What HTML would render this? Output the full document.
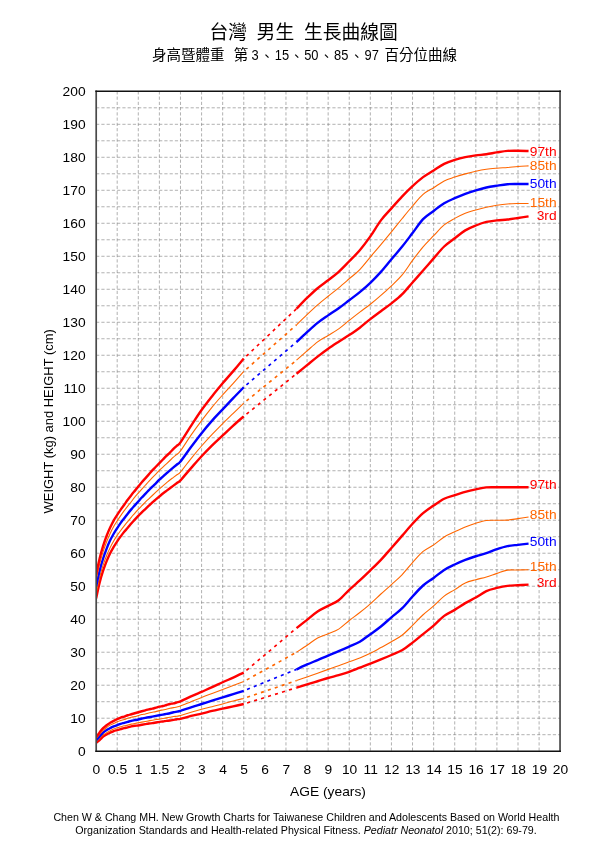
<!DOCTYPE html>
<html lang="zh-Hant"><head><meta charset="utf-8"><title>台灣 男生 生長曲線圖</title>
<style>html,body{margin:0;padding:0;background:#fff}svg{display:block}</style></head>
<body>
<svg width="609" height="845" viewBox="0 0 609 845">
<rect width="609" height="845" fill="#fff"/>
<path d="M96.10 107.80H560.20M96.10 124.30H560.20M96.10 140.79H560.20M96.10 157.29H560.20M96.10 173.79H560.20M96.10 190.29H560.20M96.10 206.78H560.20M96.10 223.28H560.20M96.10 239.78H560.20M96.10 256.28H560.20M96.10 272.77H560.20M96.10 289.27H560.20M96.10 305.77H560.20M96.10 322.27H560.20M96.10 338.76H560.20M96.10 355.26H560.20M96.10 371.76H560.20M96.10 388.26H560.20M96.10 404.75H560.20M96.10 421.25H560.20M96.10 437.75H560.20M96.10 454.25H560.20M96.10 470.74H560.20M96.10 487.24H560.20M96.10 503.74H560.20M96.10 520.24H560.20M96.10 536.73H560.20M96.10 553.23H560.20M96.10 569.73H560.20M96.10 586.23H560.20M96.10 602.72H560.20M96.10 619.22H560.20M96.10 635.72H560.20M96.10 652.22H560.20M96.10 668.71H560.20M96.10 685.21H560.20M96.10 701.71H560.20M96.10 718.21H560.20M96.10 734.70H560.20M117.20 91.30V751.20M138.29 91.30V751.20M159.39 91.30V751.20M180.48 91.30V751.20M201.58 91.30V751.20M222.67 91.30V751.20M243.77 91.30V751.20M264.86 91.30V751.20M285.96 91.30V751.20M307.05 91.30V751.20M328.15 91.30V751.20M349.25 91.30V751.20M370.34 91.30V751.20M391.44 91.30V751.20M412.53 91.30V751.20M433.63 91.30V751.20M454.72 91.30V751.20M475.82 91.30V751.20M496.91 91.30V751.20M518.01 91.30V751.20M539.10 91.30V751.20" fill="none" stroke="#808080" stroke-width="0.62" stroke-dasharray="3.2 2.05"/>
<clipPath id="pc"><rect x="96.10" y="91.30" width="464.10" height="659.90"/></clipPath><g clip-path="url(#pc)">
<path d="M96.10 598.43C96.69 595.79 98.44 587.21 99.62 582.60C100.79 577.98 101.96 574.29 103.13 570.72C104.30 567.14 105.48 564.06 106.65 561.15C107.82 558.23 108.99 555.59 110.16 553.23C111.34 550.87 112.51 548.94 113.68 546.96C114.85 544.98 116.02 543.11 117.20 541.35C118.37 539.59 119.54 538.00 120.71 536.40C121.88 534.81 123.06 533.21 124.23 531.78C125.40 530.35 126.57 529.20 127.74 527.82C128.92 526.45 130.09 524.91 131.26 523.53C132.43 522.16 133.60 520.84 134.78 519.58C135.95 518.31 137.12 517.16 138.29 515.95C139.46 514.74 140.63 513.47 141.81 512.32C142.98 511.16 144.15 510.12 145.32 509.02C146.49 507.92 147.67 506.82 148.84 505.72C150.01 504.62 151.18 503.46 152.35 502.42C153.53 501.37 154.70 500.44 155.87 499.45C157.04 498.46 158.21 497.47 159.39 496.48C160.56 495.49 161.73 494.44 162.90 493.51C164.07 492.57 165.25 491.75 166.42 490.87C167.59 489.99 168.76 489.11 169.93 488.23C171.11 487.35 172.28 486.47 173.45 485.59C174.62 484.71 175.79 483.83 176.97 482.95C178.14 482.07 178.14 482.79 180.48 480.31C182.83 477.84 187.51 472.12 191.03 468.10C194.55 464.09 198.06 460.02 201.58 456.22C205.09 452.43 208.61 448.80 212.12 445.34C215.64 441.87 219.16 438.74 222.67 435.44C226.19 432.14 229.70 428.73 233.22 425.54C236.74 422.35 242.01 417.84 243.77 416.30" fill="none" stroke="#ff0000" stroke-width="2.4" stroke-linejoin="round" stroke-linecap="butt"/>
<path d="M243.77 416.30L296.51 373.74" fill="none" stroke="#ff0000" stroke-width="1.65" stroke-dasharray="3.1 4.2" stroke-dashoffset="-3.5"/>
<path d="M296.51 373.74C298.26 372.31 303.54 368.00 307.05 365.16C310.57 362.31 314.09 359.39 317.60 356.66C321.12 353.93 324.63 351.26 328.15 348.78C331.67 346.30 335.18 344.06 338.70 341.77C342.21 339.48 345.73 337.40 349.25 335.05C352.76 332.70 356.28 330.33 359.79 327.68C363.31 325.02 366.83 321.85 370.34 319.10C373.86 316.36 377.37 313.84 380.89 311.21C384.40 308.59 387.92 306.16 391.44 303.36C394.95 300.56 398.47 297.89 401.98 294.40C405.50 290.92 409.02 286.41 412.53 282.44C416.05 278.47 419.56 274.58 423.08 270.57C426.60 266.56 430.11 262.39 433.63 258.38C437.14 254.37 440.66 249.84 444.18 246.50C447.69 243.15 451.21 241.01 454.72 238.32C458.24 235.63 461.75 232.51 465.27 230.37C468.79 228.24 472.30 226.91 475.82 225.50C479.33 224.10 482.85 222.78 486.37 221.93C489.88 221.07 493.40 220.79 496.91 220.39C500.43 219.99 503.95 219.93 507.46 219.53C510.98 219.13 514.49 218.53 518.01 218.00C521.52 217.47 526.80 216.63 528.56 216.35" fill="none" stroke="#ff0000" stroke-width="2.4" stroke-linejoin="round"/>
<path d="M96.10 593.15C96.69 590.51 98.44 581.99 99.62 577.32C100.79 572.64 101.96 568.74 103.13 565.11C104.30 561.48 105.48 558.45 106.65 555.54C107.82 552.63 108.99 550.04 110.16 547.62C111.34 545.20 112.51 543.06 113.68 541.02C114.85 538.99 116.02 537.17 117.20 535.41C118.37 533.65 119.54 532.06 120.71 530.46C121.88 528.87 123.06 527.33 124.23 525.84C125.40 524.36 126.57 522.98 127.74 521.55C128.92 520.13 130.09 518.64 131.26 517.27C132.43 515.89 133.60 514.63 134.78 513.31C135.95 511.99 137.12 510.61 138.29 509.35C139.46 508.08 140.63 506.93 141.81 505.72C142.98 504.51 144.15 503.24 145.32 502.09C146.49 500.93 147.67 499.89 148.84 498.79C150.01 497.69 151.18 496.59 152.35 495.49C153.53 494.39 154.70 493.29 155.87 492.19C157.04 491.09 158.21 489.93 159.39 488.89C160.56 487.84 161.73 486.91 162.90 485.92C164.07 484.93 165.25 483.94 166.42 482.95C167.59 481.96 168.76 480.92 169.93 479.98C171.11 479.05 172.28 478.22 173.45 477.34C174.62 476.46 175.79 475.58 176.97 474.70C178.14 473.82 178.14 474.76 180.48 472.06C182.83 469.37 187.51 462.88 191.03 458.53C194.55 454.19 198.06 450.01 201.58 446.00C205.09 441.98 208.61 438.19 212.12 434.45C215.64 430.71 219.16 427.08 222.67 423.56C226.19 420.04 229.70 416.74 233.22 413.33C236.74 409.92 242.01 404.81 243.77 403.10" fill="none" stroke="#ff6600" stroke-width="1.1" stroke-linejoin="round" stroke-linecap="butt"/>
<path d="M243.77 403.10L296.51 360.21" fill="none" stroke="#ff6600" stroke-width="1.65" stroke-dasharray="3.1 4.2" stroke-dashoffset="-3.5"/>
<path d="M296.51 360.21C298.26 358.66 303.54 353.99 307.05 350.93C310.57 347.87 314.09 344.42 317.60 341.84C321.12 339.25 324.63 337.58 328.15 335.42C331.67 333.26 335.18 331.39 338.70 328.88C342.21 326.37 345.73 323.16 349.25 320.36C352.76 317.57 356.28 314.79 359.79 312.12C363.31 309.44 366.83 307.07 370.34 304.29C373.86 301.51 377.37 298.52 380.89 295.44C384.40 292.36 387.92 289.16 391.44 285.79C394.95 282.41 398.47 279.44 401.98 275.21C405.50 270.99 409.02 265.19 412.53 260.45C416.05 255.71 419.56 250.90 423.08 246.77C426.60 242.65 430.11 239.34 433.63 235.70C437.14 232.06 440.66 227.83 444.18 224.94C447.69 222.06 451.21 220.35 454.72 218.39C458.24 216.43 461.75 214.59 465.27 213.18C468.79 211.77 472.30 210.93 475.82 209.94C479.33 208.94 482.85 208.00 486.37 207.21C489.88 206.42 493.40 205.76 496.91 205.21C500.43 204.67 503.95 204.21 507.46 203.93C510.98 203.65 514.49 203.60 518.01 203.52C521.52 203.45 526.80 203.49 528.56 203.48" fill="none" stroke="#ff6600" stroke-width="1.1" stroke-linejoin="round"/>
<path d="M96.10 586.55C96.69 583.92 98.44 575.39 99.62 570.72C100.79 566.04 101.96 562.19 103.13 558.51C104.30 554.82 105.48 551.64 106.65 548.61C107.82 545.59 108.99 542.84 110.16 540.36C111.34 537.89 112.51 535.80 113.68 533.76C114.85 531.73 116.02 529.97 117.20 528.15C118.37 526.34 119.54 524.52 120.71 522.87C121.88 521.22 123.06 519.80 124.23 518.26C125.40 516.72 126.57 515.12 127.74 513.64C128.92 512.15 130.09 510.72 131.26 509.35C132.43 507.97 133.60 506.71 134.78 505.39C135.95 504.07 137.12 502.75 138.29 501.43C139.46 500.11 140.63 498.73 141.81 497.47C142.98 496.20 144.15 495.05 145.32 493.84C146.49 492.63 147.67 491.42 148.84 490.21C150.01 489.00 151.18 487.73 152.35 486.58C153.53 485.43 154.70 484.44 155.87 483.28C157.04 482.13 158.21 480.75 159.39 479.65C160.56 478.55 161.73 477.73 162.90 476.68C164.07 475.64 165.25 474.43 166.42 473.38C167.59 472.34 168.76 471.40 169.93 470.41C171.11 469.42 172.28 468.43 173.45 467.44C174.62 466.45 175.79 465.46 176.97 464.47C178.14 463.48 178.14 464.42 180.48 461.50C182.83 458.59 187.51 451.72 191.03 446.99C194.55 442.26 198.06 437.53 201.58 433.13C205.09 428.73 208.61 424.55 212.12 420.59C215.64 416.63 219.16 413.11 222.67 409.37C226.19 405.63 229.70 401.84 233.22 398.15C236.74 394.47 242.01 389.08 243.77 387.27" fill="none" stroke="#0000ff" stroke-width="2.4" stroke-linejoin="round" stroke-linecap="butt"/>
<path d="M243.77 387.27L296.51 342.06" fill="none" stroke="#0000ff" stroke-width="1.65" stroke-dasharray="3.1 4.2" stroke-dashoffset="-3.5"/>
<path d="M296.51 342.06C298.26 340.42 303.54 335.40 307.05 332.20C310.57 329.00 314.09 325.68 317.60 322.87C321.12 320.07 324.63 317.81 328.15 315.38C331.67 312.94 335.18 310.78 338.70 308.25C342.21 305.72 345.73 302.89 349.25 300.20C352.76 297.50 356.28 294.98 359.79 292.08C363.31 289.18 366.83 286.17 370.34 282.80C373.86 279.43 377.37 275.79 380.89 271.86C384.40 267.92 387.92 263.37 391.44 259.20C394.95 255.03 398.47 251.18 401.98 246.82C405.50 242.46 409.02 237.66 412.53 233.04C416.05 228.42 419.56 222.80 423.08 219.12C426.60 215.43 430.11 213.58 433.63 210.93C437.14 208.29 440.66 205.38 444.18 203.26C447.69 201.14 451.21 199.79 454.72 198.22C458.24 196.66 461.75 195.18 465.27 193.87C468.79 192.56 472.30 191.41 475.82 190.34C479.33 189.28 482.85 188.25 486.37 187.47C489.88 186.69 493.40 186.21 496.91 185.67C500.43 185.12 503.95 184.49 507.46 184.21C510.98 183.94 514.49 184.05 518.01 184.02C521.52 183.98 526.80 184.02 528.56 184.02" fill="none" stroke="#0000ff" stroke-width="2.4" stroke-linejoin="round"/>
<path d="M96.10 580.29C96.69 577.59 98.44 568.90 99.62 564.12C100.79 559.33 101.96 555.32 103.13 551.58C104.30 547.84 105.48 544.71 106.65 541.68C107.82 538.66 108.99 535.96 110.16 533.43C111.34 530.90 112.51 528.59 113.68 526.50C114.85 524.41 116.02 522.71 117.20 520.89C118.37 519.08 119.54 517.32 120.71 515.62C121.88 513.91 123.06 512.26 124.23 510.67C125.40 509.07 126.57 507.53 127.74 506.05C128.92 504.56 130.09 503.24 131.26 501.76C132.43 500.27 133.60 498.57 134.78 497.14C135.95 495.71 137.12 494.50 138.29 493.18C139.46 491.86 140.63 490.54 141.81 489.22C142.98 487.90 144.15 486.58 145.32 485.26C146.49 483.94 147.67 482.57 148.84 481.30C150.01 480.04 151.18 478.88 152.35 477.67C153.53 476.46 154.70 475.25 155.87 474.04C157.04 472.83 158.21 471.57 159.39 470.41C160.56 469.26 161.73 468.21 162.90 467.11C164.07 466.01 165.25 464.91 166.42 463.81C167.59 462.71 168.76 461.61 169.93 460.51C171.11 459.41 172.28 458.26 173.45 457.21C174.62 456.17 175.79 455.29 176.97 454.25C178.14 453.20 178.14 454.14 180.48 450.95C182.83 447.76 187.51 440.17 191.03 435.11C194.55 430.05 198.06 425.26 201.58 420.59C205.09 415.92 208.61 411.35 212.12 407.06C215.64 402.77 219.16 398.81 222.67 394.85C226.19 390.89 229.70 387.21 233.22 383.31C236.74 379.40 242.01 373.41 243.77 371.43" fill="none" stroke="#ff6600" stroke-width="1.1" stroke-linejoin="round" stroke-linecap="butt"/>
<path d="M243.77 371.43L296.51 324.90" fill="none" stroke="#ff6600" stroke-width="1.65" stroke-dasharray="3.1 4.2" stroke-dashoffset="-3.5"/>
<path d="M296.51 324.90C298.26 323.21 303.54 318.04 307.05 314.72C310.57 311.39 314.09 308.02 317.60 304.94C321.12 301.86 324.63 299.09 328.15 296.24C331.67 293.39 335.18 290.74 338.70 287.83C342.21 284.92 345.73 281.83 349.25 278.79C352.76 275.75 356.28 273.20 359.79 269.58C363.31 265.96 366.83 261.21 370.34 257.05C373.86 252.90 377.37 248.85 380.89 244.65C384.40 240.44 387.92 236.14 391.44 231.82C394.95 227.50 398.47 223.02 401.98 218.72C405.50 214.42 409.02 210.05 412.53 206.00C416.05 201.94 419.56 197.44 423.08 194.40C426.60 191.35 430.11 189.99 433.63 187.74C437.14 185.49 440.66 182.68 444.18 180.90C447.69 179.13 451.21 178.26 454.72 177.09C458.24 175.91 461.75 174.84 465.27 173.87C468.79 172.89 472.30 171.99 475.82 171.23C479.33 170.46 482.85 169.79 486.37 169.29C489.88 168.79 493.40 168.52 496.91 168.22C500.43 167.92 503.95 167.75 507.46 167.48C510.98 167.20 514.49 166.84 518.01 166.57C521.52 166.30 526.80 165.99 528.56 165.87" fill="none" stroke="#ff6600" stroke-width="1.1" stroke-linejoin="round"/>
<path d="M96.10 575.01C96.69 572.26 98.44 563.35 99.62 558.51C100.79 553.67 101.96 549.77 103.13 545.97C104.30 542.18 105.48 538.82 106.65 535.74C107.82 532.66 108.99 530.02 110.16 527.49C111.34 524.96 112.51 522.65 113.68 520.56C114.85 518.48 116.02 516.77 117.20 514.96C118.37 513.14 119.54 511.38 120.71 509.68C121.88 507.97 123.06 506.38 124.23 504.73C125.40 503.08 126.57 501.37 127.74 499.78C128.92 498.18 130.09 496.64 131.26 495.16C132.43 493.67 133.60 492.30 134.78 490.87C135.95 489.44 137.12 488.01 138.29 486.58C139.46 485.15 140.63 483.67 141.81 482.29C142.98 480.92 144.15 479.65 145.32 478.33C146.49 477.01 147.67 475.69 148.84 474.37C150.01 473.05 151.18 471.68 152.35 470.41C153.53 469.15 154.70 467.99 155.87 466.78C157.04 465.57 158.21 464.36 159.39 463.15C160.56 461.94 161.73 460.73 162.90 459.52C164.07 458.31 165.25 457.05 166.42 455.89C167.59 454.74 168.76 453.75 169.93 452.60C171.11 451.44 172.28 450.12 173.45 448.97C174.62 447.81 175.79 446.77 176.97 445.67C178.14 444.57 178.14 445.67 180.48 442.37C182.83 439.07 187.51 431.26 191.03 425.87C194.55 420.48 198.06 414.98 201.58 410.03C205.09 405.08 208.61 400.63 212.12 396.17C215.64 391.72 219.16 387.49 222.67 383.31C226.19 379.13 229.70 375.22 233.22 371.10C236.74 366.97 242.01 360.65 243.77 358.56" fill="none" stroke="#ff0000" stroke-width="2.4" stroke-linejoin="round" stroke-linecap="butt"/>
<path d="M243.77 358.56L296.51 308.74" fill="none" stroke="#ff0000" stroke-width="1.65" stroke-dasharray="3.1 4.2" stroke-dashoffset="-3.5"/>
<path d="M296.51 308.74C298.26 306.94 303.54 301.39 307.05 297.97C310.57 294.55 314.09 291.17 317.60 288.23C321.12 285.28 324.63 283.02 328.15 280.28C331.67 277.54 335.18 274.97 338.70 271.80C342.21 268.63 345.73 264.85 349.25 261.26C352.76 257.68 356.28 254.41 359.79 250.27C363.31 246.13 366.83 241.40 370.34 236.41C373.86 231.43 377.37 225.04 380.89 220.36C384.40 215.68 387.92 212.30 391.44 208.33C394.95 204.37 398.47 200.29 401.98 196.59C405.50 192.89 409.02 189.38 412.53 186.13C416.05 182.89 419.56 179.74 423.08 177.11C426.60 174.49 430.11 172.61 433.63 170.39C437.14 168.17 440.66 165.56 444.18 163.81C447.69 162.06 451.21 160.98 454.72 159.86C458.24 158.75 461.75 157.84 465.27 157.10C468.79 156.35 472.30 155.87 475.82 155.39C479.33 154.91 482.85 154.70 486.37 154.20C489.88 153.70 493.40 152.93 496.91 152.38C500.43 151.83 503.95 151.16 507.46 150.89C510.98 150.61 514.49 150.71 518.01 150.73C521.52 150.75 526.80 150.97 528.56 151.02" fill="none" stroke="#ff0000" stroke-width="2.4" stroke-linejoin="round"/>
<path d="M96.10 742.95C96.69 742.46 98.44 741.03 99.62 739.98C100.79 738.94 101.96 737.62 103.13 736.68C104.30 735.75 105.48 735.03 106.65 734.37C107.82 733.71 108.99 733.27 110.16 732.72C111.34 732.17 112.51 731.51 113.68 731.07C114.85 730.63 116.02 730.41 117.20 730.08C118.37 729.75 119.54 729.42 120.71 729.09C121.88 728.76 123.06 728.38 124.23 728.10C125.40 727.83 126.57 727.72 127.74 727.44C128.92 727.17 130.09 726.73 131.26 726.45C132.43 726.18 133.60 725.96 134.78 725.79C135.95 725.63 137.12 725.63 138.29 725.46C139.46 725.30 140.63 725.02 141.81 724.80C142.98 724.58 144.15 724.36 145.32 724.14C146.49 723.92 147.67 723.65 148.84 723.48C150.01 723.32 151.18 723.32 152.35 723.15C153.53 722.99 154.70 722.71 155.87 722.49C157.04 722.27 158.21 722.00 159.39 721.83C160.56 721.67 161.73 721.67 162.90 721.50C164.07 721.34 165.25 721.01 166.42 720.84C167.59 720.68 168.76 720.68 169.93 720.51C171.11 720.35 172.28 720.07 173.45 719.85C174.62 719.63 175.79 719.36 176.97 719.19C178.14 719.03 178.14 719.41 180.48 718.86C182.83 718.31 187.51 716.78 191.03 715.90C194.55 715.02 198.06 714.41 201.58 713.59C205.09 712.76 208.61 711.77 212.12 710.95C215.64 710.12 219.16 709.41 222.67 708.64C226.19 707.87 229.70 707.10 233.22 706.33C236.74 705.56 242.01 704.40 243.77 704.02" fill="none" stroke="#ff0000" stroke-width="2.4" stroke-linejoin="round" stroke-linecap="butt"/>
<path d="M243.77 704.02L296.51 687.68" fill="none" stroke="#ff0000" stroke-width="1.65" stroke-dasharray="3.1 4.2" stroke-dashoffset="-3.5"/>
<path d="M296.51 687.68C298.26 687.14 303.54 685.47 307.05 684.40C310.57 683.32 314.09 682.31 317.60 681.24C321.12 680.17 324.63 679.01 328.15 677.99C331.67 676.96 335.18 676.14 338.70 675.11C342.21 674.08 345.73 673.02 349.25 671.79C352.76 670.56 356.28 669.08 359.79 667.73C363.31 666.39 366.83 665.12 370.34 663.74C373.86 662.36 377.37 660.92 380.89 659.46C384.40 658.01 387.92 656.54 391.44 655.02C394.95 653.50 398.47 652.39 401.98 650.32C405.50 648.25 409.02 645.31 412.53 642.60C416.05 639.89 419.56 636.91 423.08 634.09C426.60 631.27 430.11 628.71 433.63 625.68C437.14 622.65 440.66 618.55 444.18 615.91C447.69 613.28 451.21 612.02 454.72 609.89C458.24 607.76 461.75 605.22 465.27 603.16C468.79 601.09 472.30 599.52 475.82 597.52C479.33 595.51 482.85 592.71 486.37 591.11C489.88 589.51 493.40 588.81 496.91 587.93C500.43 587.06 503.95 586.30 507.46 585.85C510.98 585.39 514.49 585.44 518.01 585.22C521.52 585.01 526.80 584.68 528.56 584.58" fill="none" stroke="#ff0000" stroke-width="2.4" stroke-linejoin="round"/>
<path d="M96.10 741.63C96.69 741.08 98.44 739.43 99.62 738.33C100.79 737.23 101.96 735.97 103.13 735.03C104.30 734.10 105.48 733.44 106.65 732.72C107.82 732.01 108.99 731.35 110.16 730.74C111.34 730.14 112.51 729.59 113.68 729.09C114.85 728.60 116.02 728.16 117.20 727.77C118.37 727.39 119.54 727.11 120.71 726.78C121.88 726.45 123.06 726.07 124.23 725.79C125.40 725.52 126.57 725.41 127.74 725.13C128.92 724.86 130.09 724.42 131.26 724.14C132.43 723.87 133.60 723.70 134.78 723.48C135.95 723.26 137.12 723.04 138.29 722.82C139.46 722.60 140.63 722.38 141.81 722.16C142.98 721.94 144.15 721.72 145.32 721.50C146.49 721.28 147.67 721.06 148.84 720.84C150.01 720.62 151.18 720.40 152.35 720.18C153.53 719.96 154.70 719.69 155.87 719.52C157.04 719.36 158.21 719.36 159.39 719.19C160.56 719.03 161.73 718.75 162.90 718.53C164.07 718.31 165.25 718.10 166.42 717.88C167.59 717.66 168.76 717.44 169.93 717.22C171.11 717.00 172.28 716.72 173.45 716.56C174.62 716.39 175.79 716.39 176.97 716.23C178.14 716.06 178.14 716.23 180.48 715.57C182.83 714.91 187.51 713.31 191.03 712.27C194.55 711.22 198.06 710.23 201.58 709.30C205.09 708.36 208.61 707.54 212.12 706.66C215.64 705.78 219.16 704.95 222.67 704.02C226.19 703.08 229.70 701.98 233.22 701.05C236.74 700.11 242.01 698.85 243.77 698.41" fill="none" stroke="#ff6600" stroke-width="1.1" stroke-linejoin="round" stroke-linecap="butt"/>
<path d="M243.77 698.41L296.51 680.59" fill="none" stroke="#ff6600" stroke-width="1.65" stroke-dasharray="3.1 4.2" stroke-dashoffset="-3.5"/>
<path d="M296.51 680.59C298.26 679.98 303.54 678.19 307.05 676.95C310.57 675.71 314.09 674.43 317.60 673.17C321.12 671.91 324.63 670.63 328.15 669.38C331.67 668.14 335.18 666.98 338.70 665.72C342.21 664.46 345.73 663.09 349.25 661.80C352.76 660.50 356.28 659.35 359.79 657.93C363.31 656.51 366.83 655.01 370.34 653.29C373.86 651.57 377.37 649.51 380.89 647.60C384.40 645.68 387.92 643.84 391.44 641.79C394.95 639.74 398.47 638.01 401.98 635.29C405.50 632.56 409.02 628.85 412.53 625.43C416.05 622.01 419.56 618.02 423.08 614.76C426.60 611.51 430.11 609.02 433.63 605.91C437.14 602.79 440.66 598.79 444.18 596.08C447.69 593.37 451.21 591.81 454.72 589.63C458.24 587.46 461.75 584.69 465.27 583.03C468.79 581.36 472.30 580.68 475.82 579.66C479.33 578.64 482.85 577.97 486.37 576.92C489.88 575.87 493.40 574.50 496.91 573.37C500.43 572.24 503.95 570.70 507.46 570.15C510.98 569.59 514.49 570.09 518.01 570.02C521.52 569.95 526.80 569.78 528.56 569.73" fill="none" stroke="#ff6600" stroke-width="1.1" stroke-linejoin="round"/>
<path d="M96.10 740.31C96.69 739.65 98.44 737.62 99.62 736.35C100.79 735.09 101.96 733.77 103.13 732.72C104.30 731.68 105.48 730.85 106.65 730.08C107.82 729.31 108.99 728.71 110.16 728.10C111.34 727.50 112.51 726.95 113.68 726.45C114.85 725.96 116.02 725.57 117.20 725.13C118.37 724.69 119.54 724.20 120.71 723.81C121.88 723.43 123.06 723.15 124.23 722.82C125.40 722.49 126.57 722.16 127.74 721.83C128.92 721.50 130.09 721.12 131.26 720.84C132.43 720.57 133.60 720.40 134.78 720.18C135.95 719.96 137.12 719.80 138.29 719.52C139.46 719.25 140.63 718.81 141.81 718.53C142.98 718.26 144.15 718.10 145.32 717.88C146.49 717.66 147.67 717.44 148.84 717.22C150.01 717.00 151.18 716.78 152.35 716.56C153.53 716.34 154.70 716.12 155.87 715.90C157.04 715.68 158.21 715.46 159.39 715.24C160.56 715.02 161.73 714.80 162.90 714.58C164.07 714.36 165.25 714.14 166.42 713.92C167.59 713.70 168.76 713.53 169.93 713.26C171.11 712.98 172.28 712.54 173.45 712.27C174.62 711.99 175.79 711.83 176.97 711.61C178.14 711.39 178.14 711.66 180.48 710.95C182.83 710.23 187.51 708.47 191.03 707.32C194.55 706.16 198.06 705.12 201.58 704.02C205.09 702.92 208.61 701.82 212.12 700.72C215.64 699.62 219.16 698.52 222.67 697.42C226.19 696.32 229.70 695.22 233.22 694.12C236.74 693.02 242.01 691.37 243.77 690.82" fill="none" stroke="#0000ff" stroke-width="2.4" stroke-linejoin="round" stroke-linecap="butt"/>
<path d="M243.77 690.82L296.51 669.37" fill="none" stroke="#0000ff" stroke-width="1.65" stroke-dasharray="3.1 4.2" stroke-dashoffset="-3.5"/>
<path d="M296.51 669.37C298.26 668.56 303.54 666.01 307.05 664.47C310.57 662.93 314.09 661.60 317.60 660.11C321.12 658.62 324.63 657.02 328.15 655.54C331.67 654.05 335.18 652.69 338.70 651.20C342.21 649.71 345.73 648.18 349.25 646.61C352.76 645.03 356.28 643.83 359.79 641.77C363.31 639.71 366.83 636.79 370.34 634.24C373.86 631.70 377.37 629.34 380.89 626.52C384.40 623.69 387.92 620.32 391.44 617.30C394.95 614.28 398.47 611.87 401.98 608.41C405.50 604.94 409.02 600.34 412.53 596.52C416.05 592.71 419.56 588.61 423.08 585.51C426.60 582.41 430.11 580.50 433.63 577.91C437.14 575.31 440.66 572.17 444.18 569.94C447.69 567.70 451.21 566.17 454.72 564.49C458.24 562.82 461.75 561.27 465.27 559.90C468.79 558.52 472.30 557.37 475.82 556.25C479.33 555.12 482.85 554.33 486.37 553.15C489.88 551.97 493.40 550.35 496.91 549.17C500.43 548.00 503.95 546.84 507.46 546.11C510.98 545.38 514.49 545.22 518.01 544.82C521.52 544.41 526.80 543.85 528.56 543.66" fill="none" stroke="#0000ff" stroke-width="2.4" stroke-linejoin="round"/>
<path d="M96.10 738.33C96.69 737.67 98.44 735.69 99.62 734.37C100.79 733.05 101.96 731.57 103.13 730.41C104.30 729.26 105.48 728.32 106.65 727.44C107.82 726.56 108.99 725.79 110.16 725.13C111.34 724.47 112.51 724.03 113.68 723.48C114.85 722.93 116.02 722.33 117.20 721.83C118.37 721.34 119.54 720.90 120.71 720.51C121.88 720.13 123.06 719.91 124.23 719.52C125.40 719.14 126.57 718.59 127.74 718.21C128.92 717.82 130.09 717.49 131.26 717.22C132.43 716.94 133.60 716.83 134.78 716.56C135.95 716.28 137.12 715.90 138.29 715.57C139.46 715.24 140.63 714.85 141.81 714.58C142.98 714.30 144.15 714.19 145.32 713.92C146.49 713.64 147.67 713.20 148.84 712.93C150.01 712.65 151.18 712.49 152.35 712.27C153.53 712.05 154.70 711.88 155.87 711.61C157.04 711.33 158.21 710.89 159.39 710.62C160.56 710.34 161.73 710.18 162.90 709.96C164.07 709.74 165.25 709.57 166.42 709.30C167.59 709.02 168.76 708.58 169.93 708.31C171.11 708.03 172.28 707.87 173.45 707.65C174.62 707.43 175.79 707.26 176.97 706.99C178.14 706.71 178.14 706.88 180.48 706.00C182.83 705.12 187.51 703.14 191.03 701.71C194.55 700.28 198.06 698.79 201.58 697.42C205.09 696.04 208.61 694.78 212.12 693.46C215.64 692.14 219.16 690.82 222.67 689.50C226.19 688.18 229.70 686.86 233.22 685.54C236.74 684.22 242.01 682.24 243.77 681.58" fill="none" stroke="#ff6600" stroke-width="1.1" stroke-linejoin="round" stroke-linecap="butt"/>
<path d="M243.77 681.58L296.51 652.22" fill="none" stroke="#ff6600" stroke-width="1.65" stroke-dasharray="3.1 4.2" stroke-dashoffset="-3.5"/>
<path d="M296.51 652.22C298.26 651.05 303.54 647.62 307.05 645.24C310.57 642.86 314.09 639.87 317.60 637.95C321.12 636.03 324.63 635.19 328.15 633.71C331.67 632.24 335.18 631.32 338.70 629.11C342.21 626.91 345.73 623.23 349.25 620.47C352.76 617.71 356.28 615.33 359.79 612.55C363.31 609.77 366.83 606.89 370.34 603.80C373.86 600.71 377.37 597.22 380.89 594.01C384.40 590.81 387.92 587.77 391.44 584.56C394.95 581.36 398.47 578.47 401.98 574.80C405.50 571.13 409.02 566.44 412.53 562.55C416.05 558.66 419.56 554.41 423.08 551.45C426.60 548.50 430.11 547.25 433.63 544.83C437.14 542.42 440.66 539.14 444.18 536.96C447.69 534.79 451.21 533.44 454.72 531.79C458.24 530.15 461.75 528.49 465.27 527.07C468.79 525.65 472.30 524.37 475.82 523.26C479.33 522.16 482.85 520.95 486.37 520.44C489.88 519.94 493.40 520.29 496.91 520.24C500.43 520.18 503.95 520.39 507.46 520.12C510.98 519.84 514.49 519.12 518.01 518.59C521.52 518.05 526.80 517.21 528.56 516.94" fill="none" stroke="#ff6600" stroke-width="1.1" stroke-linejoin="round"/>
<path d="M96.10 737.01C96.69 736.24 98.44 733.88 99.62 732.39C100.79 730.91 101.96 729.31 103.13 728.10C104.30 726.89 105.48 726.01 106.65 725.13C107.82 724.25 108.99 723.54 110.16 722.82C111.34 722.11 112.51 721.45 113.68 720.84C114.85 720.24 116.02 719.74 117.20 719.19C118.37 718.64 119.54 717.99 120.71 717.55C121.88 717.11 123.06 716.94 124.23 716.56C125.40 716.17 126.57 715.62 127.74 715.24C128.92 714.85 130.09 714.58 131.26 714.25C132.43 713.92 133.60 713.59 134.78 713.26C135.95 712.93 137.12 712.60 138.29 712.27C139.46 711.94 140.63 711.61 141.81 711.28C142.98 710.95 144.15 710.62 145.32 710.29C146.49 709.96 147.67 709.57 148.84 709.30C150.01 709.02 151.18 708.91 152.35 708.64C153.53 708.36 154.70 707.98 155.87 707.65C157.04 707.32 158.21 706.93 159.39 706.66C160.56 706.38 161.73 706.27 162.90 706.00C164.07 705.72 165.25 705.34 166.42 705.01C167.59 704.68 168.76 704.29 169.93 704.02C171.11 703.74 172.28 703.63 173.45 703.36C174.62 703.08 175.79 702.70 176.97 702.37C178.14 702.04 178.14 702.37 180.48 701.38C182.83 700.39 187.51 698.02 191.03 696.43C194.55 694.83 198.06 693.35 201.58 691.81C205.09 690.27 208.61 688.78 212.12 687.19C215.64 685.59 219.16 683.84 222.67 682.24C226.19 680.65 229.70 679.22 233.22 677.62C236.74 676.03 242.01 673.50 243.77 672.67" fill="none" stroke="#ff0000" stroke-width="2.4" stroke-linejoin="round" stroke-linecap="butt"/>
<path d="M243.77 672.67L296.51 628.13" fill="none" stroke="#ff0000" stroke-width="1.65" stroke-dasharray="3.1 4.2" stroke-dashoffset="-3.5"/>
<path d="M296.51 628.13C298.26 626.75 303.54 622.62 307.05 619.86C310.57 617.09 314.09 613.85 317.60 611.52C321.12 609.19 324.63 607.76 328.15 605.87C331.67 603.98 335.18 602.86 338.70 600.19C342.21 597.51 345.73 593.10 349.25 589.80C352.76 586.51 356.28 583.63 359.79 580.39C363.31 577.15 366.83 573.78 370.34 570.36C373.86 566.95 377.37 563.61 380.89 559.88C384.40 556.14 387.92 551.95 391.44 547.95C394.95 543.95 398.47 539.92 401.98 535.90C405.50 531.87 409.02 527.58 412.53 523.80C416.05 520.02 419.56 516.25 423.08 513.21C426.60 510.17 430.11 507.99 433.63 505.58C437.14 503.16 440.66 500.46 444.18 498.72C447.69 496.99 451.21 496.29 454.72 495.16C458.24 494.02 461.75 492.88 465.27 491.92C468.79 490.96 472.30 490.16 475.82 489.41C479.33 488.65 482.85 487.75 486.37 487.39C489.88 487.03 493.40 487.27 496.91 487.24C500.43 487.21 503.95 487.24 507.46 487.24C510.98 487.24 514.49 487.24 518.01 487.24C521.52 487.24 526.80 487.24 528.56 487.24" fill="none" stroke="#ff0000" stroke-width="2.4" stroke-linejoin="round"/>
</g>
<path d="M96.20 90.60V751.95M560.05 90.60V751.95" fill="none" stroke="#4a4a4a" stroke-width="1.7"/>
<path d="M95.35 91.30H560.90M95.35 751.25H560.90" fill="none" stroke="#111" stroke-width="1.45"/>
<text transform="translate(85.60 755.50) scale(1.150 1)" font-size="12" text-anchor="end" fill="#000" font-family="'Liberation Sans', sans-serif" >0</text>
<text transform="translate(85.60 722.50) scale(1.150 1)" font-size="12" text-anchor="end" fill="#000" font-family="'Liberation Sans', sans-serif" >10</text>
<text transform="translate(85.60 689.51) scale(1.150 1)" font-size="12" text-anchor="end" fill="#000" font-family="'Liberation Sans', sans-serif" >20</text>
<text transform="translate(85.60 656.51) scale(1.150 1)" font-size="12" text-anchor="end" fill="#000" font-family="'Liberation Sans', sans-serif" >30</text>
<text transform="translate(85.60 623.52) scale(1.150 1)" font-size="12" text-anchor="end" fill="#000" font-family="'Liberation Sans', sans-serif" >40</text>
<text transform="translate(85.60 590.52) scale(1.150 1)" font-size="12" text-anchor="end" fill="#000" font-family="'Liberation Sans', sans-serif" >50</text>
<text transform="translate(85.60 557.53) scale(1.150 1)" font-size="12" text-anchor="end" fill="#000" font-family="'Liberation Sans', sans-serif" >60</text>
<text transform="translate(85.60 524.53) scale(1.150 1)" font-size="12" text-anchor="end" fill="#000" font-family="'Liberation Sans', sans-serif" >70</text>
<text transform="translate(85.60 491.54) scale(1.150 1)" font-size="12" text-anchor="end" fill="#000" font-family="'Liberation Sans', sans-serif" >80</text>
<text transform="translate(85.60 458.55) scale(1.150 1)" font-size="12" text-anchor="end" fill="#000" font-family="'Liberation Sans', sans-serif" >90</text>
<text transform="translate(85.60 425.55) scale(1.150 1)" font-size="12" text-anchor="end" fill="#000" font-family="'Liberation Sans', sans-serif" >100</text>
<text transform="translate(85.60 392.56) scale(1.150 1)" font-size="12" text-anchor="end" fill="#000" font-family="'Liberation Sans', sans-serif" >110</text>
<text transform="translate(85.60 359.56) scale(1.150 1)" font-size="12" text-anchor="end" fill="#000" font-family="'Liberation Sans', sans-serif" >120</text>
<text transform="translate(85.60 326.56) scale(1.150 1)" font-size="12" text-anchor="end" fill="#000" font-family="'Liberation Sans', sans-serif" >130</text>
<text transform="translate(85.60 293.57) scale(1.150 1)" font-size="12" text-anchor="end" fill="#000" font-family="'Liberation Sans', sans-serif" >140</text>
<text transform="translate(85.60 260.57) scale(1.150 1)" font-size="12" text-anchor="end" fill="#000" font-family="'Liberation Sans', sans-serif" >150</text>
<text transform="translate(85.60 227.58) scale(1.150 1)" font-size="12" text-anchor="end" fill="#000" font-family="'Liberation Sans', sans-serif" >160</text>
<text transform="translate(85.60 194.58) scale(1.150 1)" font-size="12" text-anchor="end" fill="#000" font-family="'Liberation Sans', sans-serif" >170</text>
<text transform="translate(85.60 161.59) scale(1.150 1)" font-size="12" text-anchor="end" fill="#000" font-family="'Liberation Sans', sans-serif" >180</text>
<text transform="translate(85.60 128.59) scale(1.150 1)" font-size="12" text-anchor="end" fill="#000" font-family="'Liberation Sans', sans-serif" >190</text>
<text transform="translate(85.60 95.60) scale(1.150 1)" font-size="12" text-anchor="end" fill="#000" font-family="'Liberation Sans', sans-serif" >200</text>
<text transform="translate(96.40 774.30) scale(1.150 1)" font-size="12" text-anchor="middle" fill="#000" font-family="'Liberation Sans', sans-serif" >0</text>
<text transform="translate(117.50 774.30) scale(1.150 1)" font-size="12" text-anchor="middle" fill="#000" font-family="'Liberation Sans', sans-serif" >0.5</text>
<text transform="translate(138.59 774.30) scale(1.150 1)" font-size="12" text-anchor="middle" fill="#000" font-family="'Liberation Sans', sans-serif" >1</text>
<text transform="translate(159.69 774.30) scale(1.150 1)" font-size="12" text-anchor="middle" fill="#000" font-family="'Liberation Sans', sans-serif" >1.5</text>
<text transform="translate(180.78 774.30) scale(1.150 1)" font-size="12" text-anchor="middle" fill="#000" font-family="'Liberation Sans', sans-serif" >2</text>
<text transform="translate(201.88 774.30) scale(1.150 1)" font-size="12" text-anchor="middle" fill="#000" font-family="'Liberation Sans', sans-serif" >3</text>
<text transform="translate(222.97 774.30) scale(1.150 1)" font-size="12" text-anchor="middle" fill="#000" font-family="'Liberation Sans', sans-serif" >4</text>
<text transform="translate(244.07 774.30) scale(1.150 1)" font-size="12" text-anchor="middle" fill="#000" font-family="'Liberation Sans', sans-serif" >5</text>
<text transform="translate(265.16 774.30) scale(1.150 1)" font-size="12" text-anchor="middle" fill="#000" font-family="'Liberation Sans', sans-serif" >6</text>
<text transform="translate(286.26 774.30) scale(1.150 1)" font-size="12" text-anchor="middle" fill="#000" font-family="'Liberation Sans', sans-serif" >7</text>
<text transform="translate(307.35 774.30) scale(1.150 1)" font-size="12" text-anchor="middle" fill="#000" font-family="'Liberation Sans', sans-serif" >8</text>
<text transform="translate(328.45 774.30) scale(1.150 1)" font-size="12" text-anchor="middle" fill="#000" font-family="'Liberation Sans', sans-serif" >9</text>
<text transform="translate(349.55 774.30) scale(1.150 1)" font-size="12" text-anchor="middle" fill="#000" font-family="'Liberation Sans', sans-serif" >10</text>
<text transform="translate(370.64 774.30) scale(1.150 1)" font-size="12" text-anchor="middle" fill="#000" font-family="'Liberation Sans', sans-serif" >11</text>
<text transform="translate(391.74 774.30) scale(1.150 1)" font-size="12" text-anchor="middle" fill="#000" font-family="'Liberation Sans', sans-serif" >12</text>
<text transform="translate(412.83 774.30) scale(1.150 1)" font-size="12" text-anchor="middle" fill="#000" font-family="'Liberation Sans', sans-serif" >13</text>
<text transform="translate(433.93 774.30) scale(1.150 1)" font-size="12" text-anchor="middle" fill="#000" font-family="'Liberation Sans', sans-serif" >14</text>
<text transform="translate(455.02 774.30) scale(1.150 1)" font-size="12" text-anchor="middle" fill="#000" font-family="'Liberation Sans', sans-serif" >15</text>
<text transform="translate(476.12 774.30) scale(1.150 1)" font-size="12" text-anchor="middle" fill="#000" font-family="'Liberation Sans', sans-serif" >16</text>
<text transform="translate(497.21 774.30) scale(1.150 1)" font-size="12" text-anchor="middle" fill="#000" font-family="'Liberation Sans', sans-serif" >17</text>
<text transform="translate(518.31 774.30) scale(1.150 1)" font-size="12" text-anchor="middle" fill="#000" font-family="'Liberation Sans', sans-serif" >18</text>
<text transform="translate(539.40 774.30) scale(1.150 1)" font-size="12" text-anchor="middle" fill="#000" font-family="'Liberation Sans', sans-serif" >19</text>
<text transform="translate(560.50 774.30) scale(1.150 1)" font-size="12" text-anchor="middle" fill="#000" font-family="'Liberation Sans', sans-serif" >20</text>
<text transform="translate(328.00 796.20) scale(1.150 1)" font-size="12" text-anchor="middle" fill="#000" font-family="'Liberation Sans', sans-serif" >AGE (years)</text>
<text transform="translate(52.6 421.3) rotate(-90) scale(1.035 1)" font-size="12.5" text-anchor="middle" fill="#000" font-family="'Liberation Sans', sans-serif">WEIGHT (kg) and HEIGHT (cm)</text>
<text transform="translate(556.60 155.90) scale(1.150 1)" font-size="12" text-anchor="end" fill="#ff0000" font-family="'Liberation Sans', sans-serif" >97th</text>
<text transform="translate(556.60 169.60) scale(1.150 1)" font-size="12" text-anchor="end" fill="#ff6600" font-family="'Liberation Sans', sans-serif" >85th</text>
<text transform="translate(556.60 187.80) scale(1.150 1)" font-size="12" text-anchor="end" fill="#0000ff" font-family="'Liberation Sans', sans-serif" >50th</text>
<text transform="translate(556.60 206.50) scale(1.150 1)" font-size="12" text-anchor="end" fill="#ff6600" font-family="'Liberation Sans', sans-serif" >15th</text>
<text transform="translate(556.60 220.40) scale(1.150 1)" font-size="12" text-anchor="end" fill="#ff0000" font-family="'Liberation Sans', sans-serif" >3rd</text>
<text transform="translate(556.60 488.80) scale(1.150 1)" font-size="12" text-anchor="end" fill="#ff0000" font-family="'Liberation Sans', sans-serif" >97th</text>
<text transform="translate(556.60 519.00) scale(1.150 1)" font-size="12" text-anchor="end" fill="#ff6600" font-family="'Liberation Sans', sans-serif" >85th</text>
<text transform="translate(556.60 545.80) scale(1.150 1)" font-size="12" text-anchor="end" fill="#0000ff" font-family="'Liberation Sans', sans-serif" >50th</text>
<text transform="translate(556.60 570.90) scale(1.150 1)" font-size="12" text-anchor="end" fill="#ff6600" font-family="'Liberation Sans', sans-serif" >15th</text>
<text transform="translate(556.60 586.60) scale(1.150 1)" font-size="12" text-anchor="end" fill="#ff0000" font-family="'Liberation Sans', sans-serif" >3rd</text>
<text transform="translate(209.50 38.60) scale(1.000 1)" font-size="18.8" fill="#000" font-weight="400" font-family="'Liberation Sans', 'Noto Sans CJK TC', sans-serif">台灣</text>
<text transform="translate(256.60 38.60) scale(1.000 1)" font-size="18.8" fill="#000" font-weight="400" font-family="'Liberation Sans', 'Noto Sans CJK TC', sans-serif">男生</text>
<text transform="translate(304.00 38.60) scale(1.000 1)" font-size="18.8" fill="#000" font-weight="400" font-family="'Liberation Sans', 'Noto Sans CJK TC', sans-serif">生長曲線圖</text>
<text transform="translate(152.00 59.90) scale(1.000 1)" font-size="14.5" fill="#000" font-weight="400" font-family="'Liberation Sans', 'Noto Sans CJK TC', sans-serif">身高暨體重</text>
<text transform="translate(233.80 59.90) scale(1.000 1)" font-size="14.5" fill="#000" font-weight="400" font-family="'Liberation Sans', 'Noto Sans CJK TC', sans-serif">第</text>
<text transform="translate(384.50 59.90) scale(1.000 1)" font-size="14.5" fill="#000" font-weight="400" font-family="'Liberation Sans', 'Noto Sans CJK TC', sans-serif">百分位曲線</text>
<text transform="translate(260.30 60.90) scale(1.000 1)" font-size="13.5" fill="#000" font-weight="400" font-family="'Liberation Sans', 'Noto Sans CJK TC', sans-serif">、</text>
<text transform="translate(290.00 60.90) scale(1.000 1)" font-size="13.5" fill="#000" font-weight="400" font-family="'Liberation Sans', 'Noto Sans CJK TC', sans-serif">、</text>
<text transform="translate(319.70 60.90) scale(1.000 1)" font-size="13.5" fill="#000" font-weight="400" font-family="'Liberation Sans', 'Noto Sans CJK TC', sans-serif">、</text>
<text transform="translate(350.00 60.90) scale(1.000 1)" font-size="13.5" fill="#000" font-weight="400" font-family="'Liberation Sans', 'Noto Sans CJK TC', sans-serif">、</text>
<text transform="translate(251.60 59.60) scale(0.87 1)" font-size="14.8" fill="#000" font-family="'Liberation Sans', sans-serif">3</text>
<text transform="translate(274.80 59.60) scale(0.87 1)" font-size="14.8" fill="#000" font-family="'Liberation Sans', sans-serif">15</text>
<text transform="translate(304.20 59.60) scale(0.87 1)" font-size="14.8" fill="#000" font-family="'Liberation Sans', sans-serif">50</text>
<text transform="translate(334.00 59.60) scale(0.87 1)" font-size="14.8" fill="#000" font-family="'Liberation Sans', sans-serif">85</text>
<text transform="translate(364.60 59.60) scale(0.87 1)" font-size="14.8" fill="#000" font-family="'Liberation Sans', sans-serif">97</text>
<text x="306.4" y="820.7" font-size="10.67" text-anchor="middle" fill="#000" font-family="'Liberation Sans', sans-serif">Chen W &amp; Chang MH. New Growth Charts for Taiwanese Children and Adolescents Based on World Health</text>
<text x="306" y="833.8" font-size="10.67" text-anchor="middle" fill="#000" font-family="'Liberation Sans', sans-serif">Organization Standards and Health-related Physical Fitness. <tspan font-style="italic">Pediatr Neonatol</tspan> 2010; 51(2): 69-79.</text>
</svg>
</body></html>
